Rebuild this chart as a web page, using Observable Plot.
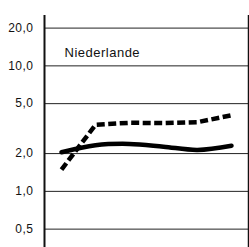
<!DOCTYPE html>
<html>
<head>
<meta charset="utf-8">
<script src="https://cdn.jsdelivr.net/npm/d3@7"></script>
<script src="https://cdn.jsdelivr.net/npm/@observablehq/plot@0.6"></script>
<style>
  html, body { margin: 0; padding: 0; background: #fff; }
  #chart svg text { letter-spacing: 0.5px; }
</style>
</head>
<body>
<div id="chart"></div>
<script>
const years = [1960, 1961, 1962, 1963, 1964, 1965];
const dashedSeries = [1.49, 3.39, 3.52, 3.50, 3.56, 4.04];
const solidSeries = [2.05, 2.33, 2.39, 2.27, 2.14, 2.31];
const yTicks = [0.5, 1, 2, 5, 10, 20];
const yTickLabels = ["0,5", "1,0", "2,0", "5,0", "10,0", "20,0"];
const titleText = "Niederlande";

const dashedData = years.map((yr, i) => ({year: yr, value: dashedSeries[i]}));
const solidData = years.map((yr, i) => ({year: yr, value: solidSeries[i]}));
const tickData = yTicks.map((v, i) => ({value: v, label: yTickLabels[i]}));

const chart = Plot.plot({
  width: 249,
  height: 247,
  marginLeft: 44,
  marginRight: 1,
  marginTop: 15,
  marginBottom: 0,
  style: {fontFamily: "'Liberation Sans', Arial, sans-serif", fontSize: "12px", background: "#fff", color: "#111"},
  x: {domain: [1959.5, 1965.5], axis: null},
  y: {type: "log", domain: [0.357, 25.2], axis: null},
  marks: [
    Plot.gridY(yTicks, {stroke: "#222", strokeOpacity: 1, strokeWidth: 1}),
    Plot.text(tickData, {y: "value", text: "label", frameAnchor: "left", textAnchor: "end", dx: -11, fontSize: 12, fill: "#111"}),
    Plot.ruleX([1959.5], {stroke: "#111", strokeWidth: 2}),
    Plot.ruleX([1965.5], {stroke: "#111", strokeWidth: 1.5}),
    Plot.line(solidData, {x: "year", y: "value", stroke: "#000", strokeWidth: 4.5, curve: "catmull-rom"}),
    Plot.line(dashedData, {x: "year", y: "value", stroke: "#000", strokeWidth: 4.5, strokeDasharray: "8,3.5", strokeLinecap: "butt", strokeLinejoin: "miter"}),
    Plot.text([titleText], {frameAnchor: "top-left", textAnchor: "start", dx: 20, dy: 32, fontSize: 13, fill: "#111"})
  ]
});
document.getElementById("chart").appendChild(chart);
</script>
</body>
</html>
